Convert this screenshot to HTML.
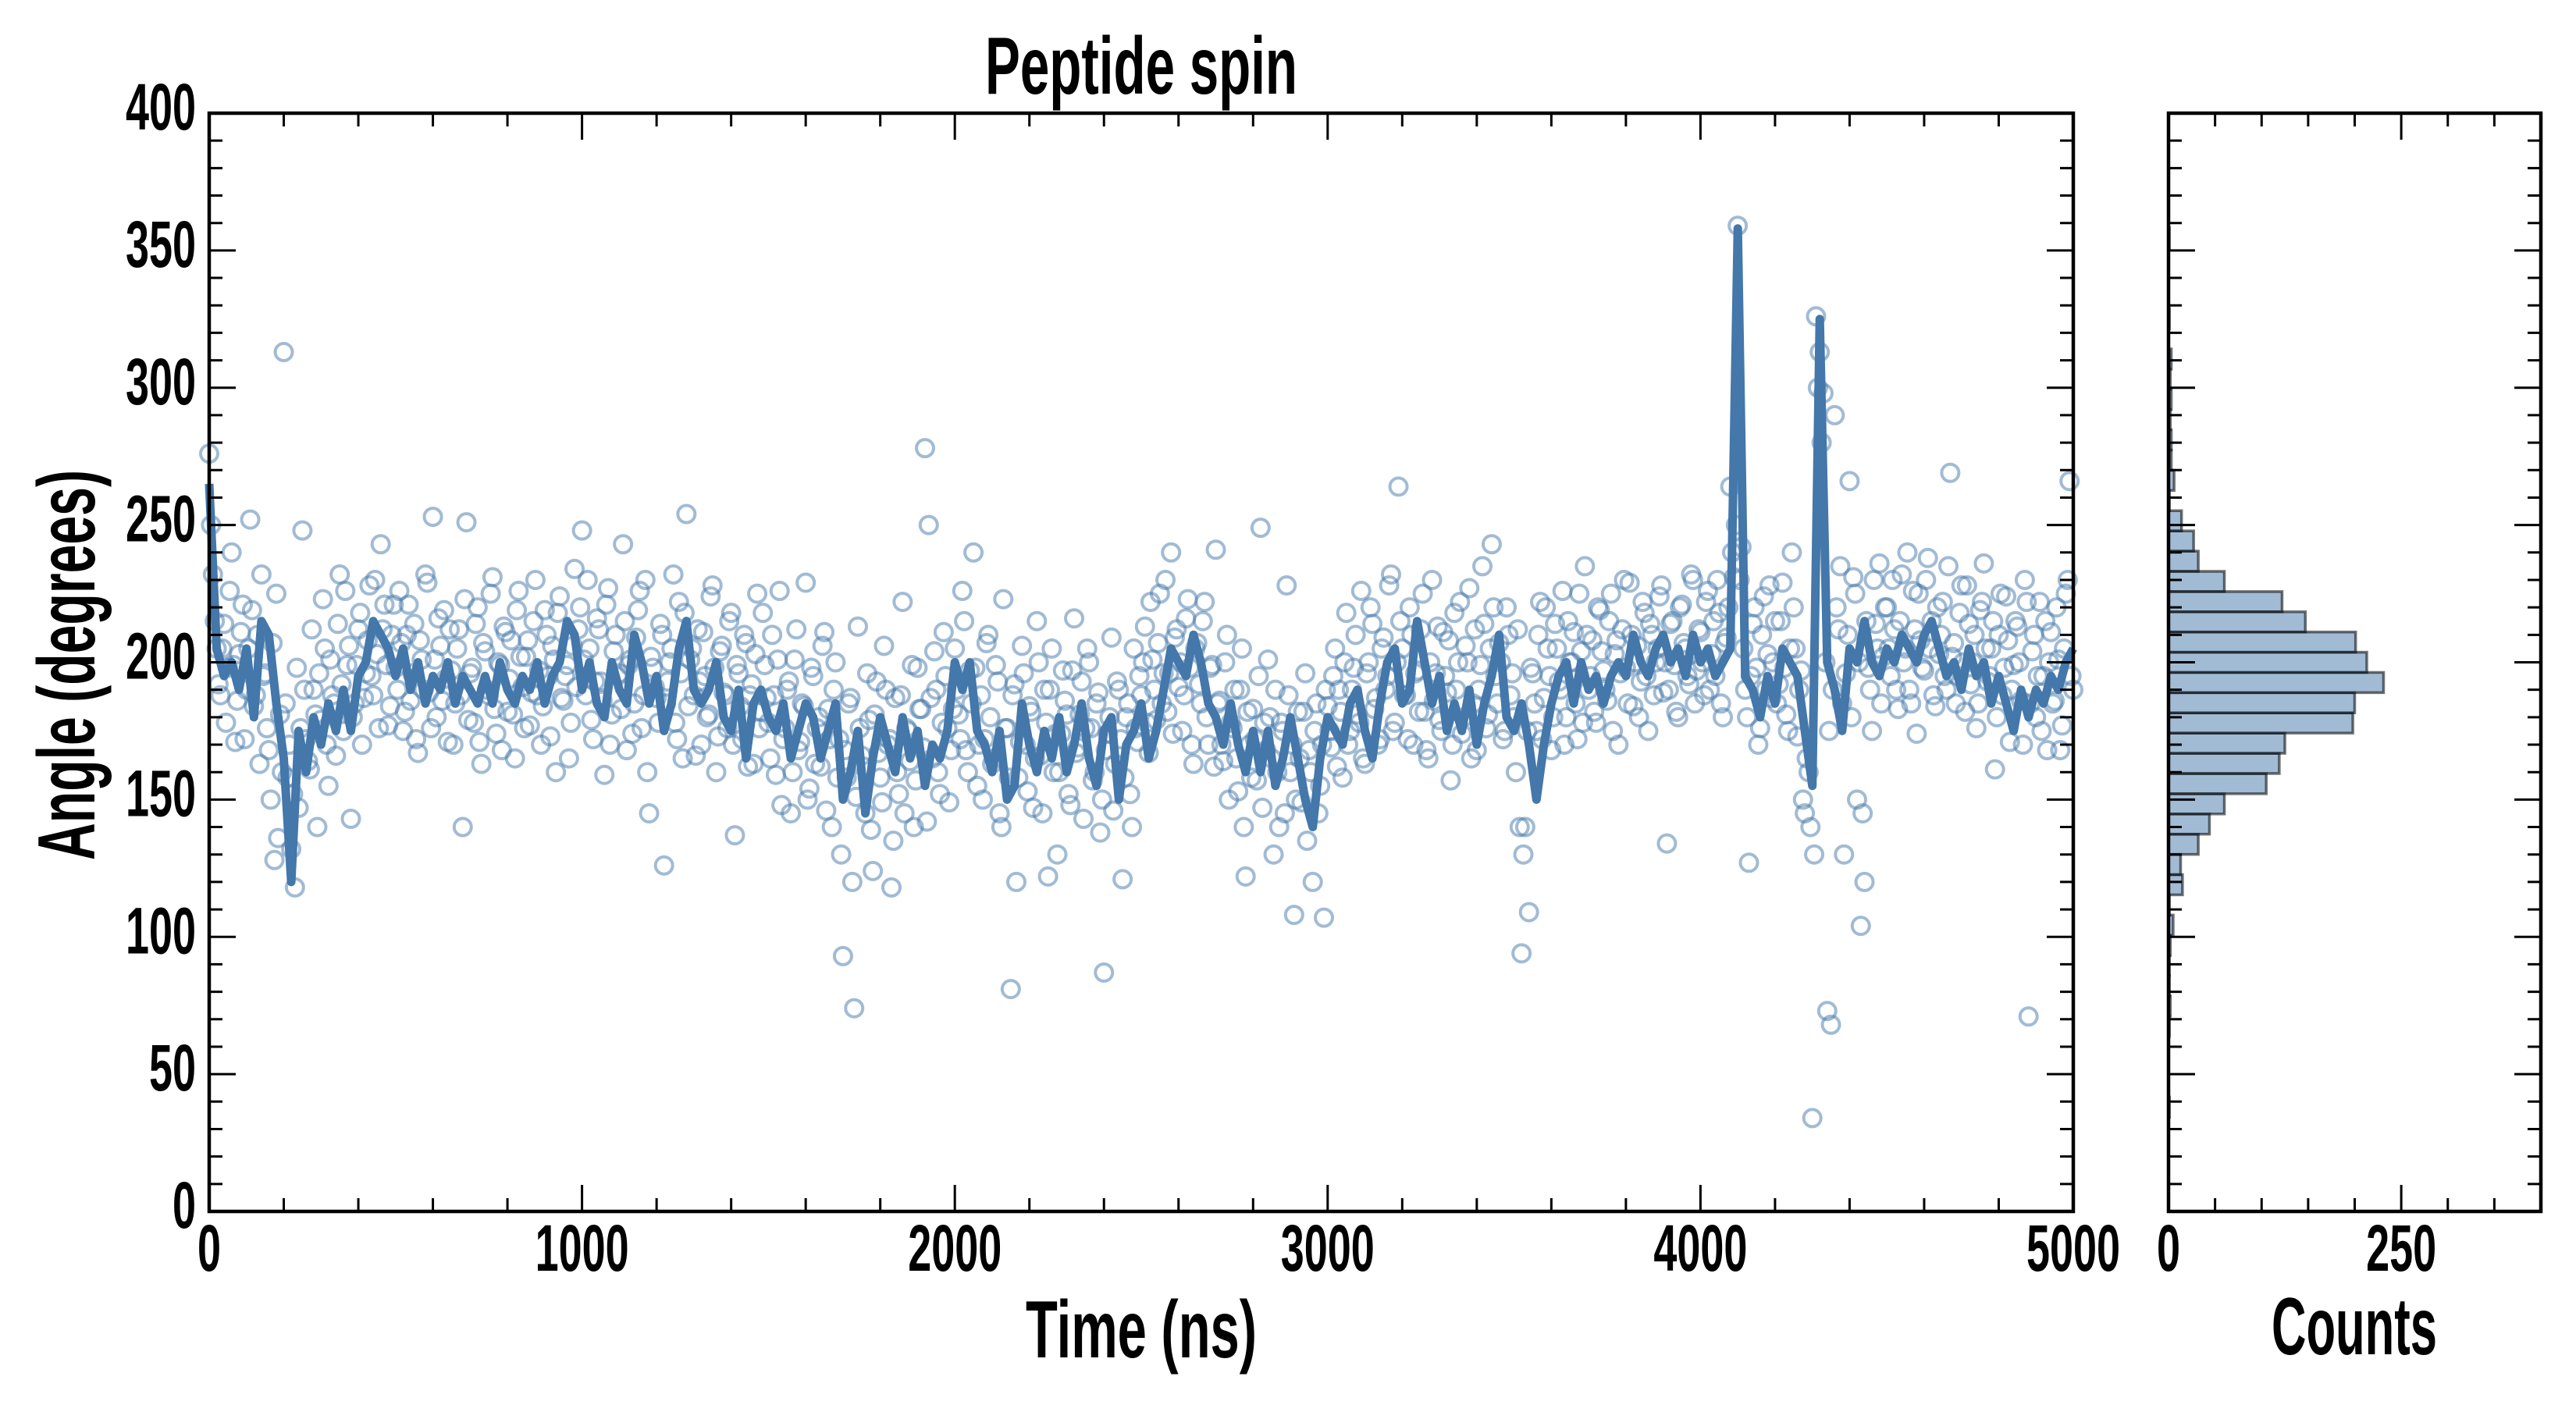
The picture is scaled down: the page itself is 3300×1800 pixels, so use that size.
<!DOCTYPE html>
<html><head><meta charset="utf-8"><title>Peptide spin</title>
<style>html,body{margin:0;padding:0;background:#fff}svg{display:block}</style></head>
<body>
<svg id="chart" xmlns="http://www.w3.org/2000/svg" width="3300" height="1800" viewBox="0 0 3300 1800" font-family="'Liberation Sans', sans-serif" font-weight="bold">
<rect width="3300" height="1800" fill="#fff"/>
<g id="scatter"></g>
<g id="line"></g>
<g id="hist"></g>
<g id="axes"></g>
<text x="1462" y="120" text-anchor="middle" font-size="104" textLength="400" lengthAdjust="spacingAndGlyphs">Peptide spin</text>
<text x="1462" y="1739" text-anchor="middle" font-size="104" textLength="296" lengthAdjust="spacingAndGlyphs">Time (ns)</text>
<text x="3016" y="1735" text-anchor="middle" font-size="104" textLength="212" lengthAdjust="spacingAndGlyphs">Counts</text>
<text transform="translate(121,852) rotate(-90)" text-anchor="middle" font-size="104" textLength="500" lengthAdjust="spacingAndGlyphs">Angle (degrees)</text>
</svg>
<script>
const lineStep = 20;
const lineValues = [265,205,195,200,190,205,180,215,210,185,165,120,175,160,180,170,185,175,190,175,
195,200,215,210,205,195,205,190,200,185,195,190,200,185,195,190,185,195,185,200,
190,185,195,190,200,185,195,200,215,210,190,200,185,180,200,190,185,210,200,185,
195,175,185,205,215,190,185,190,200,180,175,190,165,185,190,180,175,185,165,175,
185,180,165,175,185,150,160,175,145,165,180,170,160,180,165,175,155,170,165,175,
200,190,200,175,170,160,175,150,155,185,170,160,175,165,180,160,170,185,165,155,
175,180,150,170,175,185,165,175,190,205,200,195,210,200,185,180,170,185,170,160,
175,160,175,155,165,180,165,150,140,165,180,175,170,185,190,175,165,185,200,205,
185,190,215,200,185,195,175,185,175,190,170,185,195,210,180,175,185,170,150,170,
185,195,200,185,200,190,195,185,195,200,195,210,200,195,205,210,200,205,195,210,
200,205,195,200,205,358,195,190,180,195,185,205,200,195,175,155,325,200,190,175,
205,200,215,200,195,205,200,210,205,200,210,215,205,195,200,190,205,195,200,185,
195,185,175,190,180,190,185,195,190,200,205];
const scatterStep = 10;
const scatterValues = [276,232,205,188,214,198,240,171,203,221,190,252,184,210,232,196,168,207,225,181,
313,158,132,118,147,248,172,161,190,140,179,205,155,188,166,232,175,199,143,185,
212,170,196,228,188,203,243,221,177,210,
198,226,175,210,186,214,167,201,232,189,253,180,206,219,171,197,185,212,140,251,
196,178,220,163,204,188,231,174,199,213,182,208,165,226,191,202,177,215,188,170,
219,195,206,160,224,186,199,178,234,212,
248,188,205,172,216,193,159,227,181,210,196,243,168,201,185,219,176,230,145,198,
187,214,126,193,205,178,222,165,254,201,188,212,170,195,181,228,160,204,189,176,
218,137,196,172,207,188,163,225,182,199,
178,210,159,226,172,190,145,201,168,185,229,154,195,176,162,211,183,140,200,172,
93,158,187,74,213,166,145,179,124,193,158,206,170,118,187,152,222,176,164,140,
198,183,278,250,165,190,152,211,176,168,
205,181,226,168,197,240,155,188,172,210,163,199,145,223,176,81,192,158,206,170,
184,147,215,166,190,122,205,174,160,197,181,148,216,169,193,176,200,157,185,138,
87,174,209,163,190,121,180,152,205,171,
188,213,167,201,179,225,196,182,240,209,191,175,216,198,163,207,185,222,170,199,
241,186,164,210,178,190,153,205,122,170,183,157,249,178,201,165,190,140,175,228,
160,108,182,149,196,168,120,185,155,107,
184,169,205,190,158,218,175,198,181,226,163,200,214,187,172,209,195,232,178,264,
205,188,220,170,197,212,182,165,230,196,179,211,189,157,218,200,174,206,227,185,
168,199,214,181,243,195,207,172,220,188,
180,212,94,140,109,196,175,222,187,205,168,214,193,226,180,200,211,172,204,235,
190,208,178,219,197,186,225,203,170,212,198,229,184,206,193,218,175,210,200,224,
189,134,214,199,180,221,205,192,230,197,
211,188,226,203,195,218,180,209,264,231,359,242,190,127,214,198,176,224,203,187,
215,192,229,181,205,220,173,197,145,160,34,326,313,298,73,68,290,212,185,196,
266,231,150,104,120,198,175,214,236,202,
220,195,212,183,232,205,190,226,174,208,197,238,215,184,203,222,190,269,207,195,
228,182,214,200,176,219,236,193,205,161,210,188,224,171,199,213,186,230,71,204,
180,222,195,168,211,186,201,177,225,266,190];
const scatterOffsetB = 5;
const scatterValuesB = [250,215,192,205,178,226,199,186,211,172,205,219,188,163,195,176,150,128,136,160,
185,170,152,198,176,190,164,212,181,196,223,170,201,185,214,192,226,206,180,199,
218,187,208,195,230,176,212,199,184,221,
190,207,182,221,196,172,208,190,229,176,201,216,186,194,212,170,205,188,223,179,
198,214,171,207,190,225,183,200,168,211,194,181,219,202,176,208,189,230,197,184,
210,173,201,218,187,195,165,206,191,220,
201,230,179,193,212,186,221,170,204,195,183,215,199,174,209,226,188,160,202,191,
178,210,185,200,232,172,196,218,184,205,166,193,211,180,224,198,173,206,188,215,
170,199,184,210,162,192,203,176,218,187,
165,188,201,148,176,193,160,212,171,184,150,198,163,180,206,146,172,190,158,130,
168,185,120,151,176,162,196,139,181,167,149,190,172,135,160,188,145,175,199,157,
183,169,142,187,204,160,178,195,149,183,
190,172,215,160,185,198,170,150,207,180,165,193,140,176,158,188,120,171,196,153,
182,165,200,145,178,190,160,130,174,186,152,197,167,181,143,205,176,160,189,150,
168,180,146,193,172,158,185,140,176,195,
200,178,222,190,207,185,230,196,174,212,200,188,223,170,205,192,215,180,198,162,
185,170,200,150,176,165,190,140,182,158,172,195,147,168,180,130,160,178,145,188,
170,150,165,182,135,160,175,145,170,190,
175,195,162,182,200,170,190,210,178,165,196,220,183,170,205,190,228,175,200,215,
188,172,210,196,182,225,168,200,186,213,175,195,208,170,190,222,180,200,165,212,
190,235,176,205,220,185,200,175,210,196,
160,140,130,175,198,185,210,172,220,195,180,205,190,170,215,200,185,225,178,210,
195,182,220,204,190,215,175,208,196,230,185,210,200,180,222,195,214,188,205,228,
200,190,215,182,220,207,195,232,185,212,
200,222,190,215,230,185,207,220,240,250,230,205,180,195,220,170,210,190,228,200,
185,215,198,175,240,205,190,150,165,140,130,300,280,200,175,190,220,235,130,210,
180,225,200,145,215,190,230,205,185,220,
205,230,190,215,200,240,185,212,225,198,230,205,188,220,210,195,235,202,185,218,
200,228,192,210,185,222,205,195,215,180,225,198,208,190,215,200,170,222,185,210,
195,175,215,200,185,220,168,205,230,195];
const histStart = 34.3;
const histBinWidth = 7.364;
const histCounts = [1,0,0,0,1,2,1,1,2,5,1,15,13,32,44,60,105,119,125,198,200,231,213,201,147,122,60,32,27,14,1,6,3,3,2,3,2,3,0,1,0,0,0,1];
const xTickLabels = ["0","1000","2000","3000","4000","5000"];
const yTickLabels = ["0","50","100","150","200","250","300","350","400"];
const countTickLabels = ["0","250"];

const NS = "http://www.w3.org/2000/svg";
const X0 = 268, X1 = 2656, Y0 = 1552, Y1 = 145, H0 = 2778, H1 = 3255;
const xS = t => X0 + t / 5000 * (X1 - X0);
const yS = v => Y0 - v / 400 * (Y0 - Y1);
const hS = c => H0 + c / 400 * (H1 - H0);
function mk(tag, parent, attrs) {
  const e = document.createElementNS(NS, tag);
  for (const k in attrs) e.setAttribute(k, attrs[k]);
  parent.appendChild(e);
  return e;
}
const gs = document.getElementById('scatter');
function drawPoints(values, offset) {
  values.forEach((v, i) => {
    const c = mk('circle', gs, {cx: xS(i * scatterStep + offset), cy: yS(v), r: 11, fill: 'none', stroke: 'rgba(68,119,170,0.5)', 'stroke-width': 4});
    
    
  });
}
drawPoints(scatterValues, 0);
drawPoints(scatterValuesB, scatterOffsetB);
const gl = document.getElementById('line');
const pts = lineValues.map((v, i) => xS(i * lineStep).toFixed(1) + ',' + yS(v).toFixed(1)).join(' ');
const pl = mk('polyline', gl, {points: pts, fill: 'none', stroke: '#4477aa', 'stroke-width': 11, 'stroke-linejoin': 'round'});


const gh = document.getElementById('hist');
histCounts.forEach((c, i) => {
  if (c <= 0) return;
  const lo = histStart + i * histBinWidth, hi = lo + histBinWidth;
  const r = mk('rect', gh, {x: H0, y: yS(hi), width: hS(c) - H0, height: yS(lo) - yS(hi), fill: 'rgba(68,119,170,0.5)', stroke: 'rgba(0,0,0,0.55)', 'stroke-width': 3.5});
  
  
});
const ga = document.getElementById('axes');
function line(x1, y1, x2, y2, w) { mk('line', ga, {x1, y1, x2, y2, stroke: '#000', 'stroke-width': w}); }
function label(txt, x, y, anchor, name) {
  const t = mk('text', ga, {x, y, 'text-anchor': anchor, 'font-size': 84, textLength: txt.length * 30, lengthAdjust: 'spacingAndGlyphs'});
  t.textContent = txt;
  
  
}
for (let v = 0; v <= 400; v += 10) {
  const y = yS(v), L = v % 50 === 0 ? 34 : 17;
  line(X0, y, X0 + L, y, 3); line(X1, y, X1 - L, y, 3);
  line(H0, y, H0 + L, y, 3); line(H1, y, H1 - L, y, 3);
}
for (let t = 0; t <= 5000; t += 200) {
  const x = xS(t), L = t % 1000 === 0 ? 34 : 17;
  line(x, Y0, x, Y0 - L, 3); line(x, Y1, x, Y1 + L, 3);
}
for (let c = 0; c <= 400; c += 50) {
  const x = hS(c), L = c % 250 === 0 ? 34 : 17;
  line(x, Y0, x, Y0 - L, 3); line(x, Y1, x, Y1 + L, 3);
}
mk('rect', ga, {x: X0, y: Y1, width: X1 - X0, height: Y0 - Y1, fill: 'none', stroke: '#000', 'stroke-width': 4.5});
mk('rect', ga, {x: H0, y: Y1, width: H1 - H0, height: Y0 - Y1, fill: 'none', stroke: '#000', 'stroke-width': 4.5});
yTickLabels.forEach(s => label(s, 251, yS(+s) + 21, 'end', 'y-tick-label'));
xTickLabels.forEach(s => label(s, xS(+s), 1628, 'middle', 'x-tick-label'));
countTickLabels.forEach(s => label(s, hS(+s), 1628, 'middle', 'count-tick-label'));
</script>
</body></html>
